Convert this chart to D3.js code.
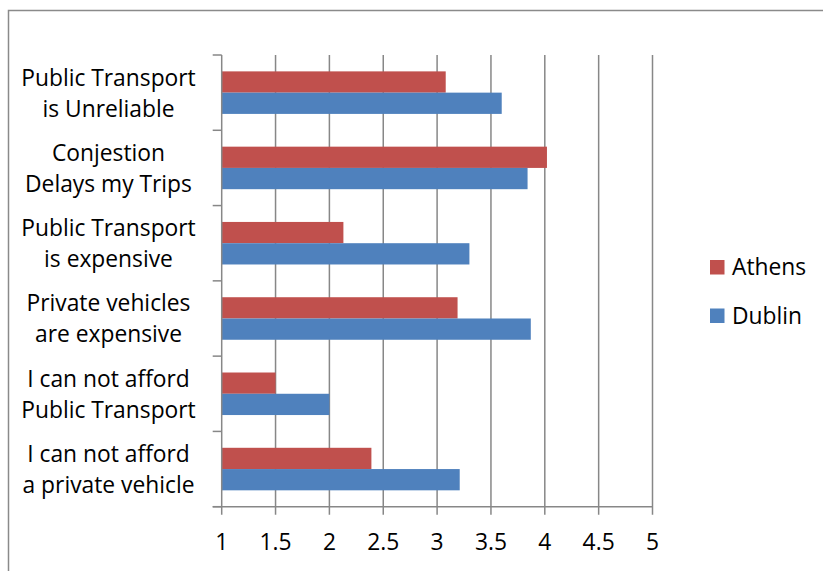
<!DOCTYPE html>
<html>
<head>
<meta charset="utf-8">
<script src="https://cdn.jsdelivr.net/npm/d3@7/dist/d3.min.js"></script>
<style>
  html, body { margin: 0; padding: 0; background: #fff; }
  svg { display: block; }
  text { font-family: "Open Sans", Lato, sans-serif; fill: #000; }
</style>
</head>
<body>
<svg id="chart" width="823" height="571"></svg>
<script>
// Survey answers: mean agreement score per statement, by city
const categories = [
  ["Public Transport", "is Unreliable"],
  ["Conjestion", "Delays my Trips"],
  ["Public Transport", "is expensive"],
  ["Private vehicles", "are expensive"],
  ["I can not afford", "Public Transport"],
  ["I can not afford", "a private vehicle"]
];
const seriesNames = ["Athens", "Dublin"];
const athens = [3.08, 4.02, 2.13, 3.19, 1.50, 2.39];
const dublin = [3.60, 3.84, 3.30, 3.87, 2.00, 3.21];
const xTicks = [1, 1.5, 2, 2.5, 3, 3.5, 4, 4.5, 5];
const colors = { Athens: "#C0504D", Dublin: "#4F81BD" };

const svg = d3.select("#chart");
const fontSize = 22.8;
const gridColor = "#878787";

// Outer chart frame
svg.append("rect")
  .attr("x", 8.5).attr("y", 10.5)
  .attr("width", 840).attr("height", 600)
  .attr("fill", "none").attr("stroke", "#8a8a8a").attr("stroke-width", 1.5);

const plotLeft = 221.7, plotRight = 652.5, plotTop = 55, plotBottom = 506.7;

const x = d3.scaleLinear().domain([1, 5]).range([plotLeft, plotRight]);
const keys = categories.map((c, i) => i);
const y = d3.scaleBand().domain(keys).range([plotTop, plotBottom]).padding(0);
const yInner = d3.scaleBand().domain(seriesNames)
  .range([0, y.bandwidth()]).paddingInner(0).paddingOuter(0.77);

// Vertical gridlines (with tick stubs below the axis)
svg.append("g").selectAll("line")
  .data(xTicks.slice(1))
  .join("line")
  .attr("x1", d => x(d)).attr("x2", d => x(d))
  .attr("y1", plotTop).attr("y2", plotBottom + 8)
  .attr("stroke", gridColor).attr("stroke-width", 1.5);

// Bars
const rows = keys.map(i => ({ i, Athens: athens[i], Dublin: dublin[i] }));
const groups = svg.append("g").selectAll("g")
  .data(rows).join("g")
  .attr("transform", d => `translate(0,${y(d.i)})`);
groups.selectAll("rect")
  .data(d => seriesNames.map(s => ({ s, v: d[s] })))
  .join("rect")
  .attr("x", x(1))
  .attr("y", d => yInner(d.s))
  .attr("width", d => x(d.v) - x(1))
  .attr("height", yInner.bandwidth())
  .attr("fill", d => colors[d.s]);

// Y axis line with category boundary ticks
const yAxis = svg.append("g");
yAxis.append("line")
  .attr("x1", plotLeft).attr("x2", plotLeft).attr("y1", plotTop).attr("y2", plotBottom + 8)
  .attr("stroke", gridColor).attr("stroke-width", 1.5);
const bounds = keys.map(k => y(k)).concat([plotBottom]);
yAxis.selectAll("line.tick").data(bounds).join("line")
  .attr("class", "tick")
  .attr("x1", plotLeft - 9).attr("x2", plotLeft)
  .attr("y1", d => d).attr("y2", d => d)
  .attr("stroke", gridColor).attr("stroke-width", 1.5);

// X axis line
svg.append("line")
  .attr("x1", plotLeft - 9).attr("x2", plotRight)
  .attr("y1", plotBottom).attr("y2", plotBottom)
  .attr("stroke", gridColor).attr("stroke-width", 1.5);

// X tick labels
svg.append("g").selectAll("text")
  .data(xTicks).join("text")
  .attr("x", d => x(d)).attr("y", 550)
  .attr("text-anchor", "middle")
  .attr("font-size", fontSize)
  .text(d => d);

// Category labels (two lines, centred)
const labels = svg.append("g").selectAll("text")
  .data(keys).join("text")
  .attr("text-anchor", "middle")
  .attr("font-size", fontSize);
labels.each(function (k) {
  const t = d3.select(this);
  const cy = y(k) + y.bandwidth() / 2;
  categories[k].forEach((line, j) => {
    t.append("tspan")
      .attr("x", 108.5)
      .attr("y", cy - 7 + j * 31)
      .text(line);
  });
});

// Legend
const legend = svg.append("g").selectAll("g")
  .data(seriesNames).join("g")
  .attr("transform", (d, i) => `translate(710,${260 + i * 48.5})`);
legend.append("rect")
  .attr("width", 14.5).attr("height", 14.5)
  .attr("fill", d => colors[d]);
legend.append("text")
  .attr("x", 22).attr("y", 15)
  .attr("font-size", fontSize)
  .text(d => d);
</script>
</body>
</html>
